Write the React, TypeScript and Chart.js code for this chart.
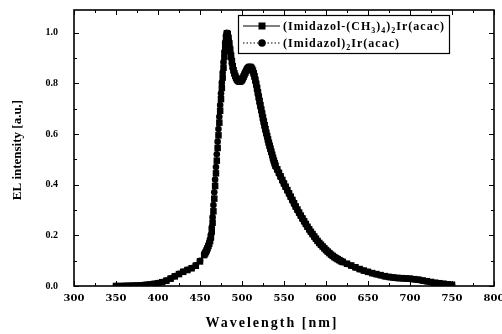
import React, { useEffect, useRef } from "react";
import { Chart, registerables } from "chart.js";

Chart.register(...registerables);

const wavelengths = [
  350, 355, 360, 365, 370, 375, 380, 385, 390, 395, 400, 405, 410, 415, 420, 425, 430, 435, 440, 445, 450, 455,
  456, 457, 458, 459, 460, 461, 462, 463, 464, 465, 466, 467, 468, 469, 470, 471, 472, 473, 474, 475, 476, 477,
  478, 479, 480, 481, 482, 483, 484, 485, 486, 487, 488, 489, 490, 491, 492, 493, 494, 495, 496, 497, 498, 499,
  500, 501, 502, 503, 504, 505, 506, 507, 508, 509, 510, 511, 512, 513, 514, 515, 516, 517, 518, 519, 520, 521,
  522, 523, 524, 525, 526, 527, 528, 529, 530, 531, 532, 533, 534, 535, 536, 537, 538, 539, 540,
  542, 544, 546, 548, 550, 552, 554, 556, 558, 560, 562, 564, 566, 568, 570, 572, 574, 576, 578, 580,
  582, 584, 586, 588, 590, 592, 594, 596, 598, 600, 602, 604, 606, 608, 610, 612, 614, 616, 618, 620,
  625, 630, 635, 640, 645, 650, 655, 660, 665, 670, 675, 680, 685, 690, 695, 700, 705, 710, 715, 720,
  725, 730, 735, 740, 745, 750,
];

const seriesA = [
  0.000, 0.000, 0.000, 0.001, 0.001, 0.002, 0.003, 0.004, 0.006, 0.008, 0.011, 0.015, 0.021, 0.029, 0.038, 0.047, 0.056, 0.063, 0.070, 0.080, 0.097, 0.122,
  0.128, 0.134, 0.141, 0.149, 0.158, 0.167, 0.178, 0.192, 0.215, 0.250, 0.295, 0.345, 0.395, 0.445, 0.495, 0.545, 0.595, 0.645, 0.692, 0.738, 0.782, 0.823,
  0.862, 0.905, 0.945, 0.978, 0.998, 0.995, 0.980, 0.958, 0.934, 0.910, 0.888, 0.868, 0.852, 0.840, 0.830, 0.822, 0.816, 0.812, 0.809, 0.808, 0.808, 0.810,
  0.814, 0.820, 0.827, 0.835, 0.842, 0.849, 0.855, 0.860, 0.863, 0.865, 0.865, 0.862, 0.857, 0.850, 0.840, 0.828, 0.814, 0.798, 0.782, 0.765, 0.748, 0.731,
  0.714, 0.697, 0.681, 0.665, 0.650, 0.635, 0.620, 0.605, 0.592, 0.579, 0.566, 0.554, 0.542, 0.530, 0.518, 0.506, 0.495, 0.485, 0.475,
  0.461, 0.447, 0.433, 0.419, 0.405, 0.392, 0.379, 0.366, 0.353, 0.340, 0.327, 0.314, 0.302, 0.290, 0.278, 0.267, 0.256, 0.245, 0.234, 0.224,
  0.214, 0.205, 0.196, 0.187, 0.178, 0.170, 0.163, 0.156, 0.149, 0.142, 0.136, 0.130, 0.124, 0.119, 0.114, 0.110, 0.106, 0.102, 0.098, 0.095,
  0.088, 0.081, 0.074, 0.067, 0.061, 0.056, 0.051, 0.047, 0.043, 0.039, 0.036, 0.034, 0.032, 0.031, 0.030, 0.029, 0.027, 0.025, 0.022, 0.019,
  0.016, 0.013, 0.011, 0.009, 0.007, 0.005,
];

const seriesB = [
  0.000, 0.000, 0.001, 0.001, 0.002, 0.002, 0.003, 0.005, 0.006, 0.009, 0.012, 0.016, 0.022, 0.030, 0.039, 0.048, 0.056, 0.064, 0.071, 0.082, 0.100, 0.126,
  0.131, 0.137, 0.145, 0.153, 0.162, 0.172, 0.184, 0.202, 0.232, 0.272, 0.320, 0.370, 0.420, 0.470, 0.520, 0.570, 0.620, 0.668, 0.715, 0.760, 0.803, 0.843,
  0.884, 0.925, 0.962, 0.990, 1.000, 0.988, 0.970, 0.946, 0.922, 0.899, 0.878, 0.860, 0.846, 0.835, 0.826, 0.819, 0.814, 0.810, 0.808, 0.807, 0.809, 0.812,
  0.817, 0.823, 0.831, 0.838, 0.846, 0.852, 0.858, 0.862, 0.864, 0.866, 0.864, 0.860, 0.854, 0.845, 0.834, 0.821, 0.806, 0.790, 0.773, 0.756, 0.739, 0.722,
  0.705, 0.689, 0.673, 0.657, 0.642, 0.627, 0.612, 0.598, 0.585, 0.572, 0.560, 0.548, 0.536, 0.524, 0.512, 0.500, 0.490, 0.480, 0.470,
  0.457, 0.443, 0.429, 0.415, 0.402, 0.389, 0.376, 0.363, 0.350, 0.337, 0.324, 0.311, 0.299, 0.287, 0.276, 0.265, 0.254, 0.243, 0.232, 0.222,
  0.212, 0.203, 0.194, 0.185, 0.177, 0.169, 0.162, 0.155, 0.148, 0.141, 0.135, 0.129, 0.123, 0.118, 0.113, 0.109, 0.105, 0.101, 0.097, 0.094,
  0.087, 0.080, 0.073, 0.066, 0.060, 0.055, 0.050, 0.046, 0.042, 0.038, 0.035, 0.033, 0.031, 0.030, 0.029, 0.028, 0.026, 0.024, 0.021, 0.018,
  0.015, 0.012, 0.010, 0.008, 0.006, 0.004,
];

const seriesLabels = ["(Imidazol-(CH₃)₄)₂Ir(acac)", "(Imidazol)₂Ir(acac)"];
// legend rich text: [text, isSubscript]
const legendTextA: [string, boolean][] = [
  ["(Imidazol-(CH", false], ["3", true], [")", false], ["4", true], [")", false], ["2", true], ["Ir(acac)", false],
];
const legendTextB: [string, boolean][] = [["(Imidazol)", false], ["2", true], ["Ir(acac)", false]];

const xTitle = "Wavelength [nm]";
const yTitle = "EL intensity [a.u.]";
const xRange = [300, 800];
const yRange = [0, 1.09];

const framePlugin = {
  id: "frame",
  afterDraw(chart: any) {
    const { ctx, chartArea } = chart;
    const { left, right, top, bottom } = chartArea;
    const xs = chart.scales.x;
    const ys = chart.scales.y;
    ctx.save();
    ctx.strokeStyle = "#000";
    ctx.lineWidth = 1.6;
    ctx.strokeRect(left, top, right - left, bottom - top);
    ctx.lineWidth = 1;
    ctx.beginPath();
    for (let v = xRange[0]; v <= xRange[1]; v += 25) {
      const px = Math.round(xs.getPixelForValue(v)) + 0.5;
      const len = v % 50 === 0 ? 5 : 3;
      ctx.moveTo(px, bottom);
      ctx.lineTo(px, bottom - len);
      ctx.moveTo(px, top);
      ctx.lineTo(px, top + len);
    }
    for (let i = 0; i <= 10; i++) {
      const v = i / 10;
      const py = Math.round(ys.getPixelForValue(v)) + 0.5;
      const len = i % 2 === 0 ? 5 : 3;
      ctx.moveTo(left, py);
      ctx.lineTo(left + len, py);
      ctx.moveTo(right, py);
      ctx.lineTo(right - len, py);
    }
    ctx.stroke();

    // axis titles
    ctx.fillStyle = "#000";
    ctx.textAlign = "center";
    ctx.textBaseline = "middle";
    ctx.font = "bold 14px 'Liberation Serif'";
    (ctx as any).letterSpacing = "2px";
    ctx.fillText(xTitle, 272, 323);
    (ctx as any).letterSpacing = "0px";
    ctx.save();
    ctx.translate(18, 150);
    ctx.rotate(-Math.PI / 2);
    ctx.font = "bold 13px 'Liberation Serif'";
    ctx.fillText(yTitle, 0, 0);
    ctx.restore();

    // legend
    const bx = left + 164;
    const by = top + 5;
    const bw = 211;
    const bh = 38;
    ctx.fillStyle = "#fff";
    ctx.fillRect(bx, by, bw, bh);
    ctx.strokeStyle = "#000";
    ctx.lineWidth = 1.2;
    ctx.strokeRect(bx + 0.5, by + 0.5, bw, bh);
    const rows = [
      { y: by + 11, parts: legendTextA, dash: [] as number[], style: "rect" },
      { y: by + 28, parts: legendTextB, dash: [1.5, 2], style: "circle" },
    ];
    rows.forEach((r) => {
      ctx.lineWidth = 1;
      ctx.setLineDash(r.dash);
      ctx.beginPath();
      ctx.moveTo(bx + 5, r.y);
      ctx.lineTo(bx + 42, r.y);
      ctx.stroke();
      ctx.setLineDash([]);
      ctx.fillStyle = "#000";
      if (r.style === "rect") {
        ctx.fillRect(bx + 20.5, r.y - 3.5, 7, 7);
      } else {
        ctx.beginPath();
        ctx.arc(bx + 24, r.y, 3.8, 0, Math.PI * 2);
        ctx.fill();
      }
      let tx = bx + 45;
      ctx.textAlign = "left";
      ctx.textBaseline = "alphabetic";
      (ctx as any).letterSpacing = "1px";
      r.parts.forEach(([t, sub]) => {
        ctx.font = sub ? "bold 8px 'Liberation Serif'" : "bold 12px 'Liberation Serif'";
        ctx.fillText(t, tx, r.y + (sub ? 7 : 4));
        tx += ctx.measureText(t).width;
      });
      (ctx as any).letterSpacing = "0px";
    });
    ctx.restore();
  },
};

export default function App() {
  const ref = useRef<HTMLCanvasElement>(null);
  useEffect(() => {
    document.body.style.margin = "0";
    const canvas = ref.current!;
    const chart = new Chart(canvas, {
      type: "line",
      data: {
        datasets: [
          {
            label: seriesLabels[0],
            data: wavelengths.map((w, i) => ({ x: w, y: seriesA[i] })),
            borderColor: "#000",
            backgroundColor: "#000",
            borderWidth: 1,
            pointStyle: "rect",
            pointRadius: 4.6,
            pointBorderWidth: 0,
            tension: 0,
          },
          {
            label: seriesLabels[1],
            data: wavelengths.map((w, i) => ({ x: w, y: seriesB[i] })),
            borderColor: "#000",
            backgroundColor: "#000",
            borderWidth: 1,
            borderDash: [1.5, 2],
            pointStyle: "circle",
            pointRadius: 3.3,
            pointBorderWidth: 0,
            tension: 0,
          },
        ],
      },
      options: {
        responsive: false,
        animation: false,
        layout: { padding: { top: 10, right: 8, left: 0, bottom: 0 } },
        plugins: { legend: { display: false }, tooltip: { enabled: false } },
        scales: {
          x: {
            type: "linear",
            min: xRange[0],
            max: xRange[1],
            grid: { display: false, drawTicks: false },
            border: { display: false },
            ticks: {
              stepSize: 50,
              autoSkip: false,
              maxRotation: 0,
              padding: 6,
              color: "#000",
              font: { family: "'DejaVu Serif'", weight: "bold", size: 10 },
              callback: (v: any) => String(v),
            },
            afterFit: (s: any) => {
              s.height = 48;
              s.paddingLeft = 0;
              s.paddingRight = 0;
            },
          },
          y: {
            type: "linear",
            min: yRange[0],
            max: yRange[1],
            grid: { display: false, drawTicks: false },
            border: { display: false },
            ticks: {
              stepSize: 0.2,
              includeBounds: false,
              padding: 16,
              color: "#000",
              font: { family: "'Liberation Serif'", weight: "bold", size: 10 },
              callback: (v: any) => Number(v).toFixed(1),
            },
            afterFit: (s: any) => {
              s.width = 74;
              s.paddingTop = 0;
              s.paddingBottom = 0;
            },
          },
        },
      },
      plugins: [framePlugin],
    });
    return () => chart.destroy();
  }, []);
  return <canvas ref={ref} width={502} height={334} style={{ display: "block" }} />;
}
